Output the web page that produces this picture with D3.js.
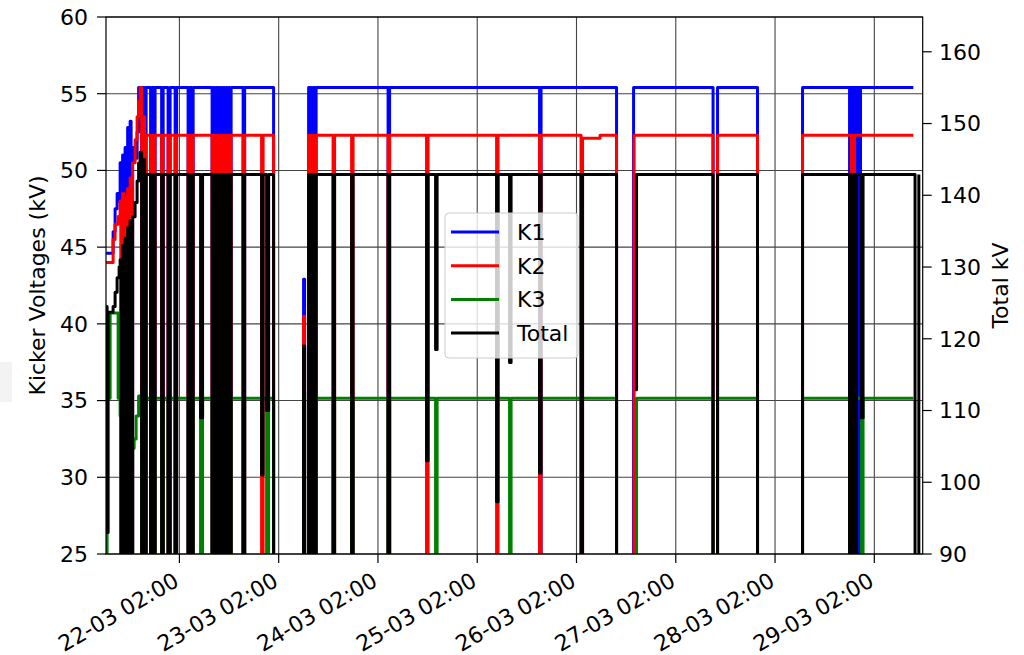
<!DOCTYPE html>
<html><head><meta charset="utf-8">
<script src="https://cdn.jsdelivr.net/npm/d3@7"></script>
<style>
body{margin:0;background:#fff;}
text{font-family:"DejaVu Sans",sans-serif;fill:#000;}
</style>
</head><body>
<svg id="c" width="1024" height="655"></svg>
<script>
// ---------- data ----------
const seriesNames = ["K1", "K2", "K3", "Total"];
const xDomain = ["21-03 08:15", "29-03 13:42"];
const xTicks = ["22-03 02:00","23-03 02:00","24-03 02:00","25-03 02:00","26-03 02:00","27-03 02:00","28-03 02:00","29-03 02:00"];
const leftTicks = [25, 30, 35, 40, 45, 50, 55, 60];
const rightTicks = [90, 100, 110, 120, 130, 140, 150, 160];
const leftDomain = [25, 60];
const rightDomain = [90, 164.85];

// step series: [time, value]; value holds until the next point
const k1 = [
 ["21-03 08:17",44.6],["21-03 09:58",46.0],["21-03 10:27",47.5],["21-03 10:56",48.5],["21-03 11:25",48.0],["21-03 11:40",50.5],
 ["21-03 11:54",0],["21-03 12:16",51.0],["21-03 12:31",0],["21-03 12:52",51.5],["21-03 13:07",0],["21-03 13:29",52.8],["21-03 13:43",0],["21-03 14:05",53.2],["21-03 14:19",0],["21-03 14:41",51.5],
 ["21-03 15:17",50.8],["21-03 15:46",52.5],["21-03 16:08",55.4],
 ["21-03 16:52",0],["21-03 17:13",55.4],["21-03 17:35",0],["21-03 17:57",55.4],
 ["21-03 19:02",0],["21-03 19:24",55.4],["21-03 19:46",0],["21-03 20:07",55.4],
 ["21-03 21:42",0],["21-03 22:04",55.4],["21-03 23:16",0],["21-03 23:45",55.4],
 ["22-03 00:58",0],["22-03 01:19",55.4],
 ["22-03 04:06",0],["22-03 04:28",55.4],["22-03 04:57",0],["22-03 05:19",55.4],
 ["22-03 09:54",0],["22-03 10:16",55.4],["22-03 10:30",0],["22-03 10:52",55.4],["22-03 11:07",0],["22-03 11:28",55.4],["22-03 11:43",0],["22-03 12:05",55.4],
 ["22-03 12:19",0],["22-03 12:41",55.4],["22-03 12:55",0],["22-03 13:17",55.4],["22-03 13:32",0],["22-03 13:54",55.4],["22-03 14:08",0],["22-03 14:30",55.4],
 ["22-03 17:24",0],["22-03 17:46",55.4],
 ["23-03 00:46",0],
 ["23-03 08:01",42.9],["23-03 08:16",0],
 ["23-03 09:14",55.4],["23-03 09:28",0],["23-03 09:50",55.4],["23-03 10:05",0],["23-03 10:26",55.4],["23-03 10:41",0],["23-03 11:03",55.4],
 ["24-03 04:27",0],["24-03 04:49",55.4],
 ["25-03 17:04",0],["25-03 17:26",55.4],
 ["26-03 11:41",0],
 ["26-03 15:48",55.4],
 ["27-03 11:01",0],["27-03 12:06",55.4],["27-03 21:46",0],
 ["28-03 08:39",55.4],
 ["28-03 20:01",0],["28-03 20:15",55.4],["28-03 20:30",0],["28-03 20:44",55.4],["28-03 20:59",0],["28-03 21:13",55.4],
 ["28-03 21:28",0],["28-03 21:42",55.4],["28-03 21:57",0],["28-03 22:11",55.4],["28-03 22:26",0],["28-03 22:40",55.4],
 ["29-03 11:26",55.4]
];

const k2 = [
 ["21-03 08:17",44.0],["21-03 09:58",45.5],["21-03 10:27",46.5],["21-03 11:11",47.0],["21-03 11:40",48.0],
 ["21-03 11:54",0],["21-03 12:16",48.5],["21-03 12:31",0],["21-03 12:52",48.2],["21-03 13:07",0],["21-03 13:29",48.8],["21-03 13:43",0],["21-03 14:05",49.5],["21-03 14:19",0],["21-03 14:41",50.5],
 ["21-03 15:17",52.0],["21-03 15:46",53.5],["21-03 16:08",54.5],["21-03 16:30",55.4],
 ["21-03 16:52",0],["21-03 17:13",53.5],["21-03 17:35",0],["21-03 17:57",52.3],
 ["21-03 19:02",0],["21-03 19:24",52.3],["21-03 19:46",0],["21-03 20:07",52.3],
 ["21-03 21:42",0],["21-03 22:04",52.3],["21-03 23:16",0],["21-03 23:45",52.3],
 ["22-03 00:58",0],["22-03 01:19",52.3],
 ["22-03 04:06",0],["22-03 04:28",52.3],["22-03 04:57",0],["22-03 05:19",52.3],
 ["22-03 09:54",0],["22-03 10:16",52.3],["22-03 10:30",0],["22-03 10:52",52.3],["22-03 11:07",0],["22-03 11:28",52.3],["22-03 11:43",0],["22-03 12:05",52.3],
 ["22-03 12:19",0],["22-03 12:41",52.3],["22-03 12:55",0],["22-03 13:17",52.3],["22-03 13:32",0],["22-03 13:54",52.3],["22-03 14:08",0],["22-03 14:30",52.3],
 ["22-03 17:24",0],["22-03 17:46",52.3],
 ["22-03 21:52",0],["22-03 22:14",52.3],
 ["23-03 00:46",0],
 ["23-03 08:01",40.5],["23-03 08:16",0],
 ["23-03 09:14",52.3],["23-03 09:28",0],["23-03 09:50",52.3],["23-03 10:05",0],["23-03 10:26",52.3],["23-03 10:41",0],["23-03 11:03",52.3],
 ["23-03 15:09",0],["23-03 15:31",52.3],["23-03 19:38",0],["23-03 19:59",52.3],
 ["24-03 04:27",0],["24-03 04:49",52.3],
 ["24-03 13:45",0],["24-03 14:07",52.3],
 ["25-03 06:41",0],["25-03 07:02",52.3],
 ["25-03 17:04",0],["25-03 17:26",52.3],
 ["26-03 03:06",0],["26-03 03:28",52.1],["26-03 07:42",52.3],
 ["26-03 11:41",0],
 ["26-03 15:55",52.3],
 ["27-03 11:01",0],["27-03 12:06",52.3],["27-03 21:46",0],
 ["28-03 08:39",52.3],
 ["28-03 20:30",0],["28-03 20:44",52.3],["28-03 20:59",0],["28-03 21:13",52.3],
 ["29-03 11:26",52.3]
];

const k3 = [
 ["21-03 08:17",0],["21-03 08:31",35.15],["21-03 09:15",40.7],["21-03 11:11",35.15],["21-03 11:40",34.0],
 ["21-03 11:54",0],["21-03 12:16",33.5],["21-03 12:31",0],["21-03 12:52",33.0],["21-03 13:07",0],["21-03 13:29",32.5],["21-03 13:43",0],["21-03 14:05",32.0],["21-03 14:19",0],["21-03 14:41",31.9],
 ["21-03 15:03",32.5],["21-03 15:32",34.0],["21-03 16:08",35.3],
 ["21-03 16:52",0],["21-03 17:13",35.3],["21-03 17:35",0],["21-03 17:57",35.15],
 ["21-03 19:02",0],["21-03 19:24",35.15],["21-03 19:46",0],["21-03 20:07",35.15],
 ["21-03 21:42",0],["21-03 22:04",35.15],["21-03 23:16",0],["21-03 23:45",35.15],
 ["22-03 00:58",0],["22-03 01:19",35.15],
 ["22-03 04:06",0],["22-03 04:28",35.15],["22-03 04:57",0],["22-03 05:19",35.15],
 ["22-03 07:07",0],["22-03 07:36",35.15],
 ["22-03 09:54",0],["22-03 10:16",35.15],["22-03 10:30",0],["22-03 10:52",35.15],["22-03 11:07",0],["22-03 11:28",35.15],["22-03 11:43",0],["22-03 12:05",35.15],
 ["22-03 12:19",0],["22-03 12:41",35.15],["22-03 12:55",0],["22-03 13:17",35.15],["22-03 13:32",0],["22-03 13:54",35.15],["22-03 14:08",0],["22-03 14:30",35.15],
 ["22-03 17:24",0],["22-03 17:46",35.15],
 ["22-03 23:05",0],["22-03 23:34",35.15],
 ["23-03 00:46",0],
 ["23-03 08:01",35.6],["23-03 08:16",0],
 ["23-03 09:14",35.15],["23-03 09:28",0],["23-03 09:50",35.15],["23-03 10:05",0],["23-03 10:26",35.15],["23-03 10:41",0],["23-03 11:03",35.15],
 ["23-03 15:09",0],["23-03 15:31",35.15],["23-03 19:38",0],["23-03 19:59",35.15],
 ["24-03 04:27",0],["24-03 04:49",35.15],
 ["24-03 15:56",0],["24-03 16:18",35.15],
 ["25-03 09:49",0],["25-03 10:11",35.15],
 ["26-03 11:41",0],
 ["26-03 16:31",35.15],
 ["27-03 11:01",0],["27-03 12:06",35.15],["27-03 21:46",0],
 ["28-03 08:39",35.15],
 ["28-03 20:01",0],["28-03 20:15",35.15],["28-03 20:30",0],["28-03 20:44",35.15],["28-03 20:59",0],["28-03 21:13",35.15],["28-03 21:28",0],["28-03 21:42",35.15],
 ["28-03 22:55",0],["28-03 23:17",35.15],
 ["29-03 11:26",35.15]
];

const total = [
 ["21-03 08:17",124.5],["21-03 08:31",93.0],["21-03 08:46",123.7],["21-03 09:58",124.5],["21-03 10:27",126.5],["21-03 10:56",128.5],["21-03 11:25",130.0],["21-03 11:40",131.0],
 ["21-03 11:54",0],["21-03 12:16",133.0],["21-03 12:31",0],["21-03 12:52",134.0],["21-03 13:07",0],["21-03 13:29",135.5],["21-03 13:43",0],["21-03 14:05",136.5],["21-03 14:19",0],["21-03 14:41",137.0],
 ["21-03 15:17",139.0],["21-03 15:46",142.0],["21-03 16:08",144.5],["21-03 16:30",146.0],
 ["21-03 16:52",0],["21-03 17:13",145.0],["21-03 17:35",0],["21-03 17:57",142.9],
 ["21-03 19:02",0],["21-03 19:24",142.9],["21-03 19:46",0],["21-03 20:07",142.9],
 ["21-03 21:42",0],["21-03 22:04",142.9],["21-03 23:16",0],["21-03 23:45",142.9],
 ["22-03 00:58",0],["22-03 01:19",142.9],
 ["22-03 04:06",0],["22-03 04:28",142.9],["22-03 04:57",0],["22-03 05:19",142.9],
 ["22-03 07:07",109.0],["22-03 07:36",142.9],
 ["22-03 09:54",0],["22-03 10:16",142.9],["22-03 10:30",0],["22-03 10:52",142.9],["22-03 11:07",0],["22-03 11:28",142.9],["22-03 11:43",0],["22-03 12:05",142.9],
 ["22-03 12:19",0],["22-03 12:41",142.9],["22-03 12:55",0],["22-03 13:17",142.9],["22-03 13:32",0],["22-03 13:54",142.9],["22-03 14:08",0],["22-03 14:30",142.9],
 ["22-03 17:24",0],["22-03 17:46",142.9],
 ["22-03 21:52",101.0],["22-03 22:14",142.9],
 ["22-03 23:05",110.0],["22-03 23:34",142.9],
 ["23-03 00:46",0],
 ["23-03 08:01",119.0],["23-03 08:16",0],
 ["23-03 09:14",142.9],["23-03 09:28",0],["23-03 09:50",142.9],["23-03 10:05",0],["23-03 10:26",142.9],["23-03 10:41",0],["23-03 11:03",142.9],
 ["23-03 15:09",0],["23-03 15:31",142.9],["23-03 19:38",0],["23-03 19:59",142.9],
 ["24-03 04:27",0],["24-03 04:49",142.9],
 ["24-03 13:45",103.0],["24-03 14:07",142.9],
 ["24-03 15:56",118.5],["24-03 16:18",142.9],
 ["25-03 06:41",97.3],["25-03 07:02",142.9],
 ["25-03 09:49",116.7],["25-03 10:11",142.9],
 ["25-03 17:04",101.3],["25-03 17:26",142.9],
 ["26-03 03:06",0],["26-03 03:28",142.9],
 ["26-03 11:41",0],
 ["26-03 13:00",null],
 ["26-03 16:09",112.9],["26-03 16:31",142.9],
 ["27-03 11:01",0],["27-03 12:06",142.9],["27-03 21:46",0],
 ["28-03 08:39",142.9],
 ["28-03 20:01",0],["28-03 20:15",142.9],["28-03 20:30",0],["28-03 20:44",142.9],["28-03 20:59",0],["28-03 21:13",142.9],["28-03 21:28",0],["28-03 21:42",142.9],
 ["28-03 22:55",109.0],["28-03 23:17",142.9],
 ["29-03 11:51",0],["29-03 12:46",142.9]
];

const colors = ["#0000ff", "#ff0000", "#008000", "#000000"];

// ---------- drawing ----------
const svg = d3.select("#c");
const parse = d3.timeParse("%d-%m %H:%M");
const fmt = d3.timeFormat("%d-%m %H:%M");
const L = 106, R = 922.7, T = 17, B = 554;
const FS = 22;

const x = d3.scaleTime().domain(xDomain.map(parse)).range([L, R]);
const yL = d3.scaleLinear().domain(leftDomain).range([B, T]);
const yR = d3.scaleLinear().domain(rightDomain).range([B, T]);

svg.append("rect").attr("x", 0).attr("y", 362).attr("width", 12).attr("height", 40).attr("fill", "#f3f3f3");

svg.append("defs").append("clipPath").attr("id", "clip")
  .append("rect").attr("x", L).attr("y", T).attr("width", R - L).attr("height", B - T);

// grid
const grid = svg.append("g").attr("stroke", "#444").attr("stroke-width", 1.1);
xTicks.forEach(t => {
  const xx = x(parse(t));
  grid.append("line").attr("x1", xx).attr("x2", xx).attr("y1", T).attr("y2", B);
});
leftTicks.forEach(v => {
  grid.append("line").attr("x1", L).attr("x2", R).attr("y1", yL(v)).attr("y2", yL(v));
});

const plot = svg.append("g").attr("clip-path", "url(#clip)");
const mkLine = (ys) => d3.line()
  .defined(d => d[1] !== null)
  .x(d => x(parse(d[0])))
  .y(d => ys(d[1]))
  .curve(d3.curveStepAfter);

[k1, k2, k3].forEach((s, i) => {
  plot.append("path").datum(s).attr("d", mkLine(yL))
    .attr("fill", "none").attr("stroke", colors[i]).attr("stroke-width", 3)
    .attr("stroke-linejoin", "round");
});

// legend (belongs to left axes, drawn under the Total line)
const lg = svg.append("g");
lg.append("rect").attr("x", 445).attr("y", 213).attr("width", 133).attr("height", 145)
  .attr("rx", 4).attr("fill", "#fff").attr("fill-opacity", 0.8)
  .attr("stroke", "#cccccc").attr("stroke-width", 1);
seriesNames.forEach((n, i) => {
  const yy = 232 + i * 33.7;
  lg.append("line").attr("x1", 451).attr("x2", 499).attr("y1", yy).attr("y2", yy)
    .attr("stroke", colors[i]).attr("stroke-width", 3);
  lg.append("text").attr("x", 517).attr("y", yy).attr("dy", "0.36em")
    .attr("font-size", FS).text(n);
});

plot.append("path").datum(total).attr("d", mkLine(yR))
  .attr("fill", "none").attr("stroke", colors[3]).attr("stroke-width", 3)
  .attr("stroke-linejoin", "round");

// frame
svg.append("rect").attr("x", L).attr("y", T).attr("width", R - L).attr("height", B - T)
  .attr("fill", "none").attr("stroke", "#000").attr("stroke-width", 1.2);

// left axis
const ax = svg.append("g").attr("stroke", "#000").attr("stroke-width", 1.2);
leftTicks.forEach(v => {
  ax.append("line").attr("x1", L - 9).attr("x2", L).attr("y1", yL(v)).attr("y2", yL(v));
  svg.append("text").attr("x", 88).attr("y", yL(v)).attr("dy", "0.36em")
    .attr("text-anchor", "end").attr("font-size", FS).text(v);
});
rightTicks.forEach(v => {
  ax.append("line").attr("x1", R).attr("x2", R + 9).attr("y1", yR(v)).attr("y2", yR(v));
  svg.append("text").attr("x", 939).attr("y", yR(v)).attr("dy", "0.36em")
    .attr("text-anchor", "start").attr("font-size", FS).text(v);
});
xTicks.forEach(t => {
  const xx = x(parse(t));
  ax.append("line").attr("x1", xx).attr("x2", xx).attr("y1", B).attr("y2", B + 9);
  svg.append("text").attr("text-anchor", "end").attr("font-size", FS)
    .attr("transform", `translate(${xx + 1},585) rotate(-30)`)
    .text(fmt(parse(t)));
});

svg.append("text").attr("transform", `translate(37,${(T + B) / 2}) rotate(-90)`)
  .attr("text-anchor", "middle").attr("dy", "0.36em").attr("font-size", FS)
  .text("Kicker Voltages (kV)");
svg.append("text").attr("transform", `translate(1000,${(T + B) / 2}) rotate(-90)`)
  .attr("text-anchor", "middle").attr("dy", "0.36em").attr("font-size", FS)
  .text("Total kV");
</script>
</body></html>
